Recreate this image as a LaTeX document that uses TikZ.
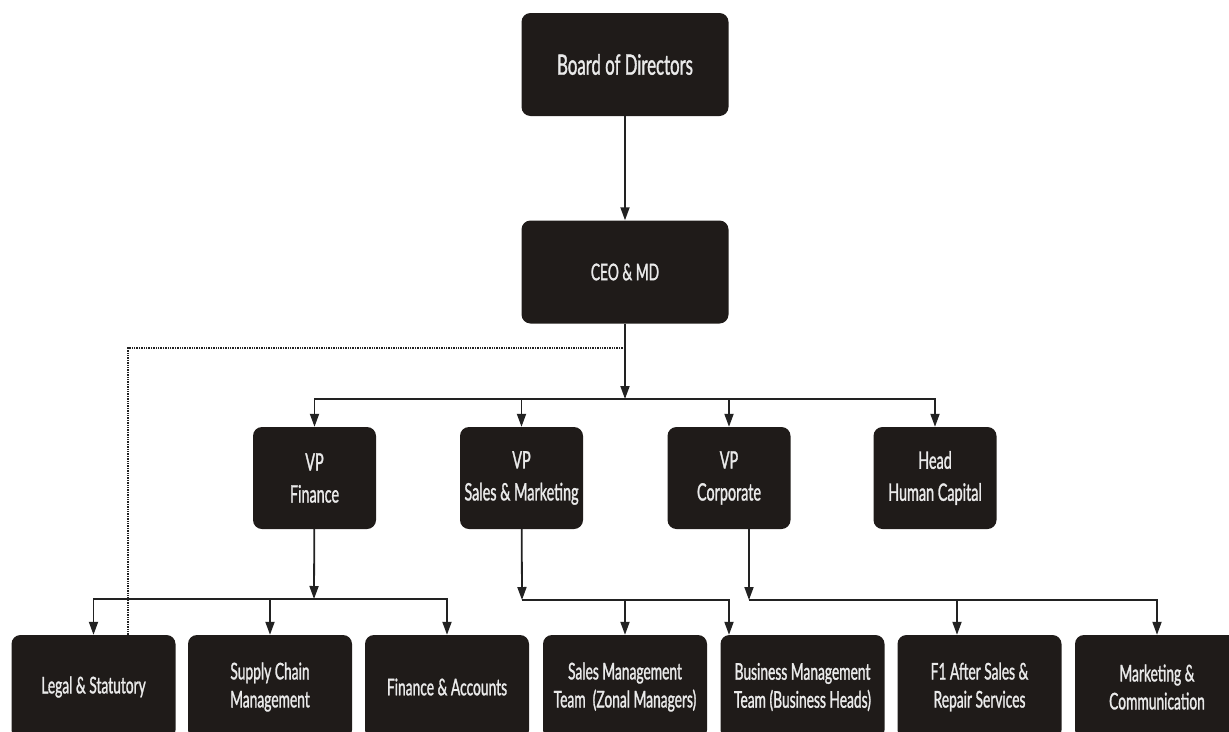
\documentclass[tikz,border=0pt]{standalone}
\usepackage{fontspec}
\setmainfont{Lato}[FakeStretch=0.6,BoldFont={Lato},BoldFeatures={FakeBold=1.2}]
\usetikzlibrary{arrows.meta}
\definecolor{boxfill}{HTML}{1F1B19}
\definecolor{boxtext}{HTML}{EAEAEA}
\definecolor{wire}{HTML}{222222}
\begin{document}
\begin{tikzpicture}[x=1pt,y=-1pt,
  unit/.style={draw=none,fill=boxfill,text=boxtext,rounded corners=9pt,
    align=center,inner sep=0pt},
  topbox/.style={unit,minimum width=207pt,minimum height=103pt},
  vpbox/.style={unit,minimum width=123pt,minimum height=102pt,
    font=\bfseries\fontsize{24}{32}\selectfont},
  deptbox/.style={unit,minimum width=164pt,minimum height=104pt,
    font=\bfseries\fontsize{23}{28}\selectfont},
  link/.style={draw=wire,line width=1.8pt},
  conn/.style={link,-{Triangle[length=13pt,width=9pt]}},
  dotlink/.style={draw=wire,line width=1.4pt,dash pattern=on 1.4pt off 1pt}]
\useasboundingbox (0,0) rectangle (1229,731);
\clip (0,0) rectangle (1229,731);

% top of the chart
\node[topbox,font=\bfseries\fontsize{28}{32}\selectfont] (board) at (625,64.5) {Board of Directors};
\node[topbox,font=\bfseries\fontsize{23}{28}\selectfont] (ceo) at (625,272) {CEO \& MD};

% vice presidents and heads
\node[vpbox] (vpfin)  at (314.5,478) {VP\\Finance};
\node[vpbox] (vpsm)   at (521.5,478) {VP\\Sales \& Marketing};
\node[vpbox] (vpcorp) at (729,478)   {VP\\Corporate};
\node[vpbox] (hr)     at (935,478)   {Head\\Human Capital};

% departments
\node[deptbox] (legal)   at (93.5,687)  {Legal \& Statutory};
\node[deptbox] (supply)  at (270,687)   {Supply Chain\\Management};
\node[deptbox] (finacc)  at (447,687)   {Finance \& Accounts};
\node[deptbox] (salesmt) at (625,687)   {Sales Management\\Team~~(Zonal Managers)};
\node[deptbox] (busmt)   at (802.5,687) {Business Management\\Team (Business Heads)};
\node[deptbox] (after)   at (979.5,687) {F1 After Sales \&\\Repair Services};
\node[deptbox] (mktg)    at (1157,687)  {Marketing \&\\Communication};

% junction points of the wiring
\coordinate (ceohub)  at (625,399);
\coordinate (tap)     at (625,348);
\coordinate (dotx)    at (128,0);
\coordinate (finhub)  at (314,599);
\coordinate (smhub)   at (522,600);
\coordinate (corpx)   at (749,0);
\coordinate (corphub) at (749,600);
\coordinate (busx)    at (729,0);
\coordinate (afterx)  at (957,0);

% board to CEO, CEO to the VP row
\draw[conn] (board) -- (ceo);
\draw[conn] (ceo) -- (ceohub);
\draw[conn] (ceohub) -| (vpfin);
\draw[conn] (ceohub) -| (vpsm);
\draw[conn] (ceohub) -| (vpcorp);
\draw[conn] (ceohub) -| (hr);

% dotted reporting line to legal
\draw[dotlink] (tap) -| (legal.north -| dotx);

% finance branch
\draw[conn] (vpfin) -- (finhub);
\draw[conn] (finhub) -| (legal);
\draw[conn] (finhub) -| (supply);
\draw[conn] (finhub) -| (finacc);

% sales and marketing branch
\draw[conn] (vpsm) -- (smhub);
\draw[conn] (smhub) -| (salesmt);
\draw[conn] (smhub) -| (busmt.north -| busx);

% corporate branch
\draw[conn] (vpcorp.south -| corpx) -- (corphub);
\draw[conn] (corphub) -| (after.north -| afterx);
\draw[conn] (corphub) -| (mktg);
\end{tikzpicture}
\end{document}
